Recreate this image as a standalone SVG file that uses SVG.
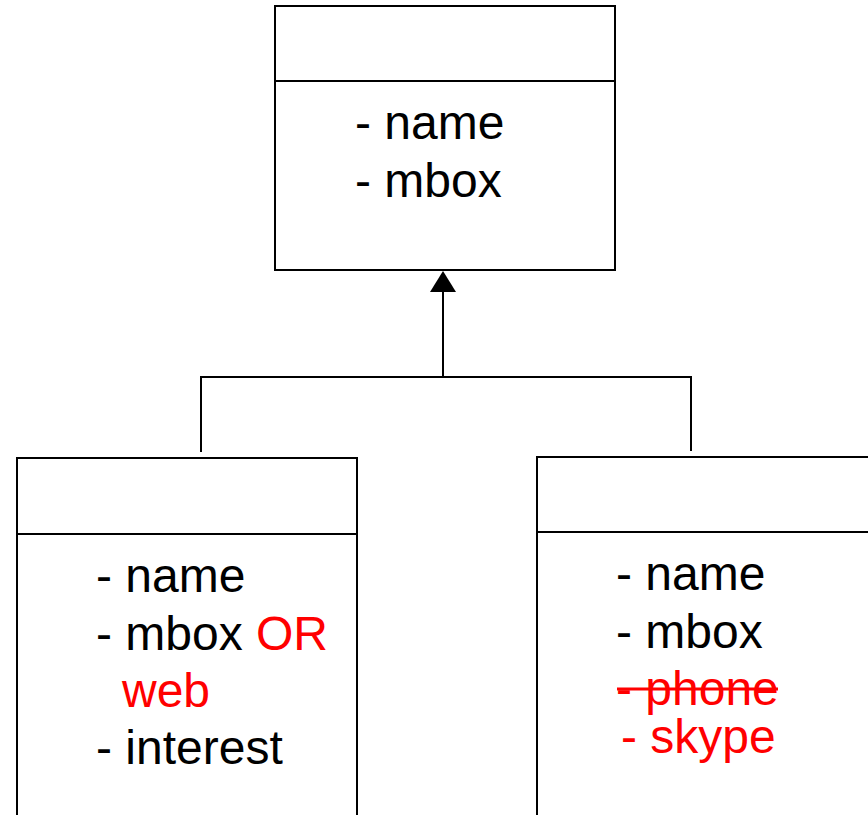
<svg xmlns="http://www.w3.org/2000/svg" width="868" height="815" viewBox="0 0 868 815">
  <defs>
    <style>
      .box { fill: #ffffff; stroke: #000000; stroke-width: 2; }
      .div { stroke: #000000; stroke-width: 2; }
      .conn { fill: none; stroke: #000000; stroke-width: 2; }
      .t { font-family: "Liberation Sans", Arial, sans-serif; font-size: 48px; fill: #000000; }
      .red { fill: #ff0000; }
      .strike { stroke: #ff0000; stroke-width: 3; }
    </style>
    <marker id="tri" markerUnits="userSpaceOnUse" markerWidth="21" markerHeight="26" refX="0" refY="13" orient="auto" viewBox="0 0 21 26">
      <path d="M0,0 L21,13 L0,26 Z" fill="#000000"/>
    </marker>
  </defs>
  <rect width="868" height="815" fill="#ffffff"/>

  <g id="connectors">
    <path class="conn" d="M201,452 V377 H691 V451"/>
    <line class="conn" x1="443" y1="377" x2="443" y2="292" marker-end="url(#tri)"/>
  </g>

  <g id="node-top">
    <rect class="box" x="275" y="6" width="340" height="264"/>
    <line class="div" x1="275" y1="81" x2="615" y2="81"/>
    <text class="t" x="355" y="139">- name</text>
    <text class="t" x="355" y="197">- mbox</text>
  </g>

  <g id="node-left">
    <rect class="box" x="17" y="458" width="340" height="370"/>
    <line class="div" x1="17" y1="534" x2="357" y2="534"/>
    <text class="t" x="96" y="592">- name</text>
    <text class="t" x="96" y="650">- mbox <tspan class="red">OR</tspan></text>
    <text class="t red" x="122" y="707">web</text>
    <text class="t" x="96" y="764">- interest</text>
  </g>

  <g id="node-right">
    <rect class="box" x="537" y="457" width="340" height="370"/>
    <line class="div" x1="537" y1="532" x2="877" y2="532"/>
    <text class="t" x="616" y="590">- name</text>
    <text class="t" x="616" y="648">- mbox</text>
    <text class="t red" x="616" y="705">- phone</text>
    <line class="strike" x1="617" y1="689" x2="778" y2="689"/>
    <text class="t red" x="621" y="753">- skype</text>
  </g>
</svg>
